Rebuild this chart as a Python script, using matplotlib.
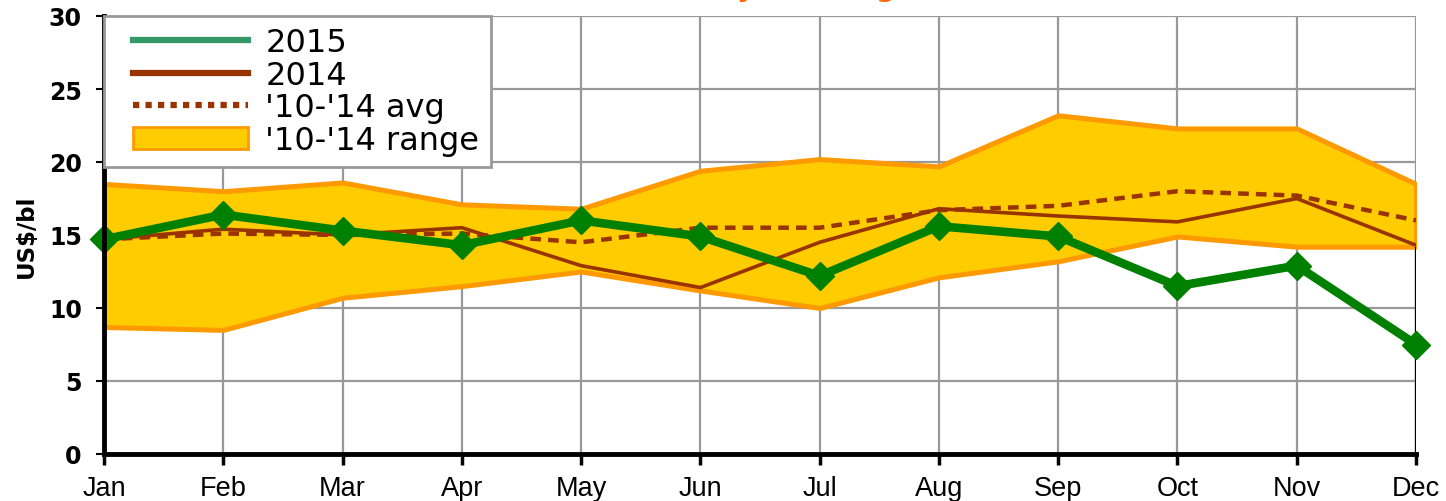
import matplotlib
matplotlib.use("Agg")
import matplotlib.pyplot as plt
from matplotlib.lines import Line2D
from matplotlib.patches import Patch
from matplotlib.legend_handler import HandlerLine2D, HandlerPatch

months = ["Jan", "Feb", "Mar", "Apr", "May", "Jun",
          "Jul", "Aug", "Sep", "Oct", "Nov", "Dec"]
y2015 = [14.7, 16.4, 15.3, 14.3, 16.0, 14.9, 12.2, 15.6, 14.9, 11.5, 12.9, 7.5]
y2014 = [14.7, 15.4, 15.0, 15.5, 12.9, 11.4, 14.5, 16.8, 16.3, 15.9, 17.5, 14.3]
avg_10_14 = [14.7, 15.1, 15.0, 15.1, 14.5, 15.5, 15.5, 16.7, 17.0, 18.0, 17.7, 16.0]
range_high = [18.5, 18.0, 18.6, 17.1, 16.8, 19.4, 20.2, 19.7, 23.2, 22.3, 22.3, 18.5]
range_low = [8.7, 8.5, 10.7, 11.5, 12.5, 11.2, 10.0, 12.1, 13.2, 14.9, 14.2, 14.2]
yticks = [0, 5, 10, 15, 20, 25, 30]

GREEN = "#008000"
GREEN_KEY = "#339966"
BROWN = "#993300"
GOLD = "#FFCC00"
ORANGE = "#FF9900"
GRID = "#999999"

fig = plt.figure(figsize=(14.46, 5.02), dpi=100)
ax = fig.add_axes([104 / 1446, 1 - 455 / 502, (1416 - 104) / 1446, (455 - 17) / 502])

x = list(range(len(months)))

ax.fill_between(x, range_low, range_high, facecolor=GOLD, edgecolor=ORANGE,
                linewidth=3.6, zorder=2)
ax.vlines(x[-1], 0, range_low[-1], color="black", linewidth=1.6, zorder=2)
ax.plot(x, avg_10_14, color=BROWN, linewidth=3.2, linestyle=(0, (2.4, 1.6)),
        zorder=3)
ax.plot(x, y2014, color=BROWN, linewidth=2.6, zorder=4)
ax.plot(x, y2015, color=GREEN, linewidth=6.2, marker="D", markersize=14,
        markeredgecolor=GREEN, markerfacecolor=GREEN, zorder=5, clip_on=False)

ax.set_xlim(0, len(months) - 1)
ax.set_ylim(0, 30)
ax.set_xticks(x)
ax.set_xticklabels(months, fontsize=19.5, family="Liberation Sans")
ax.set_yticks(yticks)
ax.set_yticklabels([str(v) for v in yticks], fontsize=17, fontweight="bold",
                   family="DejaVu Sans")
ax.grid(True, color=GRID, linewidth=1.6, zorder=0)
ax.set_axisbelow(True)
for side in ("top", "right"):
    ax.spines[side].set_visible(False)
ax.spines["left"].set_linewidth(3.5)
ax.spines["bottom"].set_linewidth(3.5)
ax.spines["left"].set_zorder(6)
ax.spines["bottom"].set_zorder(6)
ax.tick_params(axis="x", direction="out", length=8, width=2.5, pad=7)
ax.tick_params(axis="y", direction="out", length=6, width=1.5, pad=10)

ax.set_ylabel("US$/bl", fontsize=16.5, fontweight="bold", labelpad=8)

# Legend keys: inset from the frame edge by a small horizontal pad
key_line = HandlerLine2D(xpad=0.56)
key_patch = HandlerPatch(xpad=0.56)
h2015 = Line2D([], [], color=GREEN_KEY, linewidth=4.5)
h2014 = Line2D([], [], color=BROWN, linewidth=4.5)
havg = Line2D([], [], color=BROWN, linewidth=4.5, linestyle=(0, (1, 1)))
hrange = Patch(facecolor=GOLD, edgecolor=ORANGE, linewidth=2)
labels = ["2015", "2014", "'10-'14 avg", "'10-'14 range"]
leg = ax.legend([h2015, h2014, havg, hrange], labels, loc="upper left",
                bbox_to_anchor=(0, 1), borderaxespad=0, fancybox=False,
                framealpha=1, edgecolor=GRID,
                prop={"family": "DejaVu Sans", "size": 23},
                handlelength=4.15, handletextpad=0.55, labelspacing=0.05,
                borderpad=0.35,
                handler_map={h2015: key_line, h2014: key_line,
                             havg: key_line, hrange: key_patch})
leg.get_frame().set_linewidth(2)
leg.set_zorder(10)

fig.text(0.527, 1.0 + 4 / 502, "Monthly Refining", color="#FF6600",
         fontsize=20, fontweight="bold", ha="center", va="baseline")

fig.savefig("out.png", dpi=100)
